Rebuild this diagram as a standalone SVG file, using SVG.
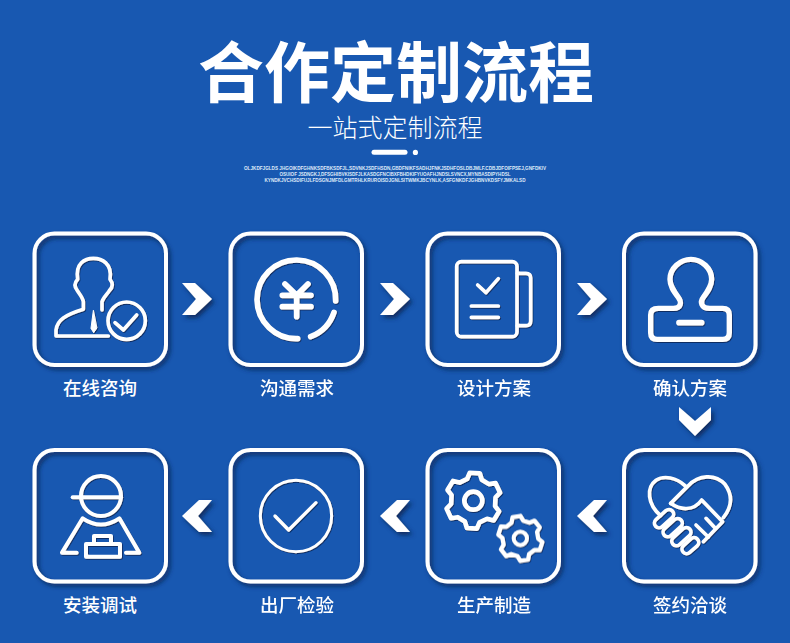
<svg xmlns="http://www.w3.org/2000/svg" width="790" height="643" viewBox="0 0 790 643">
<style>
text{font-family:"Noto Sans CJK SC","Noto Sans",sans-serif;fill:#fff;text-anchor:middle}
.title{font-size:66px;font-weight:700}
.sub{font-size:25px;font-weight:300}
.tiny{font-size:5px;font-weight:700;font-family:"Liberation Sans","Noto Sans CJK SC",sans-serif;fill:#dfe9f8}
.label{font-size:18.5px;font-weight:500}
.box{fill:none;stroke:#fff;stroke-width:4}
.ico{fill:none;stroke:#fff;stroke-linecap:round;stroke-linejoin:round}
.sh{filter:url(#sh)}
#connectors{fill:#fff}
</style>
<defs>
<filter id="sh" x="-20%" y="-20%" width="150%" height="150%">
<feDropShadow dx="2.5" dy="3" stdDeviation="2" flood-color="#0a2758" flood-opacity=".9"/>
</filter>
<polygon id="cr" points="0,0 13,0 30,16 13,32 0,32 14,16"/>
<polygon id="cl" points="30,0 17,0 0,16 17,32 30,32 16,16"/>
<path id="gear" d="M-22-64L-15-83L15-83L22-64L44-52L64-56L79-28L66-13L66 13L79 28L64 56L44 52L22 64L15 83L-15 83L-22 64L-44 52L-64 56L-79 28L-66 13L-66-13L-79-28L-64-56L-44-52Z"/>
</defs>
<rect width="790" height="643" fill="#1858b1"/>
<g id="header">
<text class="title" x="396" y="97">合作定制流程</text>
<text class="sub" x="395" y="137">一站式定制流程</text>
<line x1="374" y1="152.300" x2="405" y2="152.300" stroke="#fff" stroke-width="5" stroke-linecap="round"/>
<circle cx="415.400" cy="152.400" r="2.600" fill="#fff"/>
<text class="tiny" x="395" y="169.500" textLength="302" lengthAdjust="spacingAndGlyphs">OLJKDFJGLDS JHGOIKDFGHNKSDFBKSDFJL,SDVNKJSDFHSDN,GBDFNIKFSADHJFNKJSDHFOSLDBJMLF.CDBJDFOIFPSEJ,GNFDKIV</text>
<text class="tiny" x="395" y="175.500" textLength="231" lengthAdjust="spacingAndGlyphs">OSUIOF JSDNGKJ,DFSGHIBVKISDFJLKASDGFNCIBXFBHDKIFYUOAFHJNDSLSVNCX,MYNBASDIPYHDSL</text>
<text class="tiny" x="395" y="181.500" textLength="261" lengthAdjust="spacingAndGlyphs">KYNDKJVCHSDIFUJLFDSGNJMFDLGMTRHLKRUROISDJGNLSITWMKJBCYNLK,ASFGNKDFJGHBNVKDSFYJMKALSD</text>
</g>
<g id="connectors" class="sh">
<use href="#cr" x="182" y="283"/>
<use href="#cr" x="380" y="283"/>
<use href="#cr" x="577" y="283"/>
<polygon points="679,407 695,421 711,407 711,420 695,436 679,420"/>
<use href="#cl" x="182" y="500"/>
<use href="#cl" x="380" y="500"/>
<use href="#cl" x="577" y="500"/>
</g>
<g id="node-consult">
<rect class="box sh" x="34.500" y="233.500" width="131.500" height="131.500" rx="20"/>
<g class="ico sh" transform="translate(20 220) scale(.3333)" stroke-width="11">
<path d="M265 348H108V330C112 300 135 285 190 268V245C188 232 178 222 172 212C162 200 162 190 173 178C165 130 195 115 220 115C245 115 278 130 270 178C280 190 278 202 268 212C262 222 250 232 246 245V270"/>
<circle cx="320" cy="302" r="56"/>
<path d="M285 308L310 330L350 285"/>
<path d="M220 272L213 325L221 338L230 325Z" fill="#fff" stroke-width="3"/>
</g>
<text class="label" x="100" y="394.500">在线咨询</text>
</g>
<g id="node-talk">
<rect class="box sh" x="230.500" y="233.500" width="131.500" height="131.500" rx="20"/>
<g class="ico sh" transform="translate(20 220) scale(.3333)" stroke-width="17">
<path d="M947 243A118 118 0 1 0 833 356"/>
<path d="M872 350A118 118 0 0 0 942 277"/>
<path d="M795 192L830 226L864 192M787 226H873M787 260H873M830 226V290"/>
</g>
<text class="label" x="297" y="394.500">沟通需求</text>
</g>
<g id="node-design">
<rect class="box sh" x="427.500" y="233.500" width="131.500" height="131.500" rx="20"/>
<g class="ico sh" transform="translate(410 220) scale(.3333)" stroke-width="11">
<rect x="140" y="125" width="181" height="225" rx="14"/>
<path d="M322 160H348Q362 160 362 174V303Q362 317 348 317H322"/>
<path d="M203 195L228 218L265 176"/>
<path d="M184 258H265M184 292H265"/>
</g>
<text class="label" x="494" y="394.500">设计方案</text>
</g>
<g id="node-confirm">
<rect class="box sh" x="624" y="233.500" width="131.500" height="131.500" rx="20"/>
<g class="ico sh" transform="translate(410 220) scale(.3333)" stroke-width="16">
<path d="M745 265H790C815 265 815 245 805 232C790 212 780 197 780 178C780 145 810 118 843 118C876 118 905 145 905 178C905 197 895 212 880 232C870 245 872 265 900 265H938Q958 265 958 285V338Q958 358 938 358H742Q722 358 722 338V285Q722 265 745 265Z"/>
<path d="M807 308H875" stroke-width="17"/>
</g>
<text class="label" x="690" y="394.500">确认方案</text>
</g>
<g id="node-sign">
<rect class="box sh" x="624" y="450" width="131.500" height="131.500" rx="20"/>
<g class="ico sh" transform="translate(640 465) scale(.3333)" stroke-width="11">
<path d="M135 62C110 38 72 30 48 46C18 68 22 118 62 152"/>
<path d="M92 115L145 62C175 30 225 25 255 58C282 95 272 130 250 158"/>
<path d="M92 115C120 135 160 140 185 105L248 170L190 230"/>
<path d="M168 180L205 216M198 160L226 190"/>
<rect x="38" y="147" width="68" height="28" rx="14" transform="rotate(-42 72 161)"/>
<rect x="64" y="174" width="68" height="28" rx="14" transform="rotate(-42 98 188)"/>
<rect x="90" y="201" width="68" height="28" rx="14" transform="rotate(-42 124 215)"/>
<rect x="122" y="228" width="58" height="28" rx="14" transform="rotate(-42 151 242)"/>
</g>
<text class="label" x="690" y="611.500">签约洽谈</text>
</g>
<g id="node-produce">
<rect class="box sh" x="427.500" y="450" width="131.500" height="131.500" rx="20"/>
<g class="ico sh" transform="translate(410 440) scale(.3333)">
<use href="#gear" transform="translate(190 182) rotate(3)" stroke-width="14"/>
<circle cx="190" cy="182" r="27" stroke-width="14"/>
<use href="#gear" transform="translate(331 295) rotate(-10) scale(.8)" stroke-width="16"/>
<circle cx="331" cy="295" r="20" stroke-width="12"/>
</g>
<text class="label" x="494" y="611.500">生产制造</text>
</g>
<g id="node-inspect">
<rect class="box sh" x="230.500" y="450" width="131.500" height="131.500" rx="20"/>
<g class="ico sh" transform="translate(20 440) scale(.3333)" stroke-width="9">
<circle cx="828" cy="228" r="107"/>
<path d="M765 228L806 270L888 188" stroke-width="10"/>
</g>
<text class="label" x="297" y="611.500">出厂检验</text>
</g>
<g id="node-install">
<rect class="box sh" x="34.500" y="450" width="131.500" height="131.500" rx="20"/>
<g class="ico sh" transform="translate(20 440) scale(.3333)" stroke-width="12">
<circle cx="243" cy="168" r="60"/>
<path d="M158 172H303"/>
<path d="M170 338H126L188 235Q243 272 298 235L358 338H318"/>
<rect x="198" y="312" width="102" height="38"/>
<path d="M222 312V288H273V312"/>
</g>
<text class="label" x="100" y="611.500">安装调试</text>
</g>
</svg>
